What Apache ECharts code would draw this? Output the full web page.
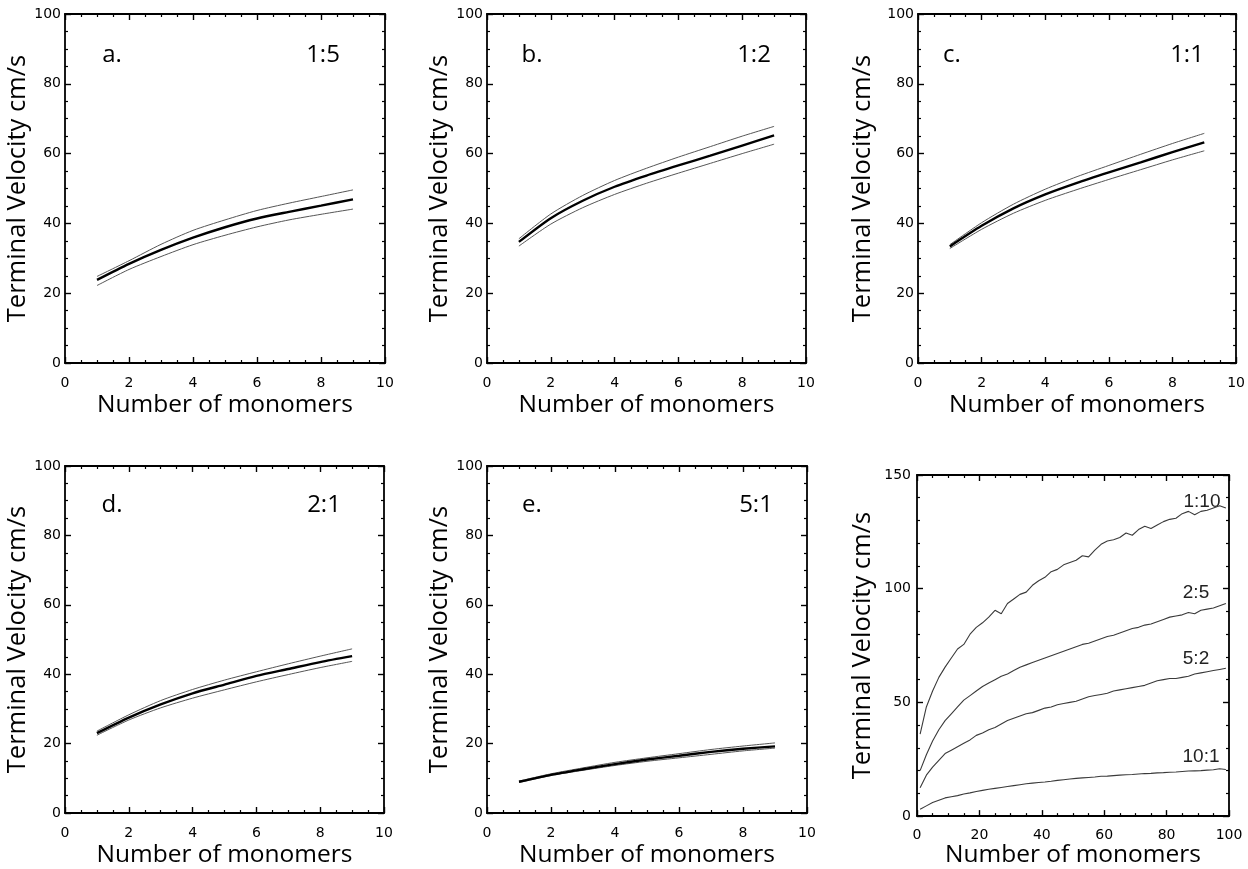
<!DOCTYPE html>
<html><head><meta charset="utf-8">
<script src="https://cdn.jsdelivr.net/npm/echarts@6/dist/echarts.min.js"></script>
<style>html,body{margin:0;padding:0;background:#fff}#c{width:1248px;height:869px}</style>
</head><body><div id="c"></div>
<script>
// ---- data ----
const monomers = [1, 2, 3, 4, 5, 6, 7, 8, 9];
const aHigh = [24.8, 29.3, 34.0, 38.0, 41.0, 43.7, 45.8, 47.7, 49.6];
const aMid  = [23.8, 28.4, 32.4, 35.9, 38.9, 41.4, 43.3, 45.1, 46.9];
const aLow  = [22.2, 26.8, 30.5, 33.9, 36.6, 39.0, 41.0, 42.6, 44.1];
const bHigh = [35.6, 42.7, 48.0, 52.3, 55.8, 59.0, 62.0, 65.0, 67.8];
const bMid  = [34.7, 41.5, 46.5, 50.5, 53.7, 56.6, 59.4, 62.3, 65.2];
const bLow  = [33.5, 39.8, 44.5, 48.3, 51.5, 54.4, 57.2, 60.0, 62.7];
const cHigh = [33.9, 40.2, 45.5, 49.8, 53.4, 56.6, 59.8, 62.9, 65.8];
const cMid  = [33.4, 39.3, 44.3, 48.3, 51.6, 54.6, 57.5, 60.4, 63.2];
const cLow  = [32.8, 38.3, 42.9, 46.6, 49.7, 52.6, 55.4, 58.2, 60.8];
const dHigh = [23.6, 28.3, 32.4, 35.6, 38.3, 40.7, 43.0, 45.2, 47.3];
const dMid  = [23.0, 27.5, 31.3, 34.5, 37.0, 39.5, 41.5, 43.5, 45.2];
const dLow  = [22.4, 26.8, 30.3, 33.1, 35.5, 37.8, 39.9, 41.9, 43.7];
const eHigh = [9.2, 11.3, 13.0, 14.6, 15.9, 17.1, 18.3, 19.3, 20.2];
const eMid  = [9.0, 11.0, 12.6, 14.1, 15.4, 16.5, 17.6, 18.5, 19.2];
const eLow  = [8.8, 10.8, 12.3, 13.7, 14.9, 15.9, 16.9, 17.9, 18.7];

const fMonomers = [1,3,5,7,9,11,13,15,17,19,21,23,25,27,29,31,33,35,37,39,41,43,45,47,49,
                   51,53,55,57,59,61,63,65,67,69,71,73,75,77,79,81,83,85,87,89,91,93,95,97,99];
const f1to10 = [36,48,55,61,65.5,69.5,73.5,75.5,80,83,85,87.5,90.5,89,93.5,95.5,97.5,98.5,101.5,103.5,
                105,107.5,108.5,110.5,111.5,112.5,114.5,114,117,119.5,121,121.5,122.5,124.5,123.5,126,127.5,126.5,128,129.5,
                130.5,131,133,134,132.5,134,134.5,135.5,136.5,135.5];
const f2to5 = [20,27,33,38,42,45,48,51,53,55,57,58.5,60,61.5,62.5,64,65.5,66.5,67.5,68.5,
               69.5,70.5,71.5,72.5,73.5,74.5,75.5,76,77,78,79,79.5,80.5,81.5,82.5,83,84,84.5,85.5,86.5,
               87.5,88,88.5,89.5,89,90.5,91,91.5,92.5,93.5];
const f5to2 = [12.5,18,21.5,24.5,27.5,29,30.5,32,33.5,35.5,36.5,38,39,40.5,42,43,44,45,45.5,46.5,
               47.5,48,49,49.5,50,50.5,51.5,52.5,53,53.5,54,55,55.5,56,56.5,57,57.5,58.5,59.5,60,
               60.5,60.5,61,61.5,62.5,63,63.5,64,64.5,65];
const f10to1 = [3,4.5,6,7,8,8.5,9,9.7,10.2,10.8,11.3,11.8,12.2,12.6,13,13.4,13.8,14.2,14.5,14.8,
                15,15.3,15.7,16,16.3,16.6,16.8,17,17.2,17.5,17.6,17.8,18,18.2,18.3,18.5,18.7,18.8,19,19.1,
                19.3,19.4,19.6,19.8,19.9,20,20.2,20.4,20.8,20.5];

const panelLetters = ['a.', 'b.', 'c.', 'd.', 'e.'];
const panelRatios = ['1:5', '1:2', '1:1', '2:1', '5:1'];
const fRatios = ['1:10', '2:5', '5:2', '10:1'];
const xTitle = 'Number of monomers';
const yTitle = 'Terminal Velocity cm/s';

// ---- layout ----
const grids = [
  {left: 65, top: 14, width: 320, height: 349},
  {left: 487, top: 14, width: 319, height: 349},
  {left: 918, top: 14, width: 319, height: 349},
  {left: 65, top: 466, width: 319, height: 348},
  {left: 487, top: 466, width: 320, height: 348},
  {left: 917, top: 475, width: 312, height: 342}
];
const yNameGaps = [27, 33, 42, 27, 34, 41];
const xNameGaps = [30, 30, 30, 30, 30, 23];

const titleFont = 'Open Sans';
const tickFont = 'DejaVu Sans';

function axisBase(gridIndex, showLabel, position, min, max, interval, minorSplit, labelMargin) {
  return {
    type: 'value', gridIndex, position, min, max, interval,
    axisLine: {show: true, onZero: false, lineStyle: {color: '#000', width: 1.8}},
    axisTick: {show: true, inside: true, length: 6, lineStyle: {color: '#000', width: 1.4}},
    minorTick: {show: true, splitNumber: minorSplit, length: 3, lineStyle: {color: '#000', width: 1.2}},
    splitLine: {show: false},
    axisLabel: {show: showLabel, margin: labelMargin, color: '#000', fontFamily: tickFont, fontSize: 14}
  };
}

const xAxes = [], yAxes = [], series = [];
const smallSets = [
  [aHigh, aMid, aLow], [bHigh, bMid, bLow], [cHigh, cMid, cLow],
  [dHigh, dMid, dLow], [eHigh, eMid, eLow]
];

grids.forEach((g, i) => {
  const isF = i === 5;
  const xmax = isF ? 100 : 10, xint = isF ? 20 : 2;
  const ymax = isF ? 150 : 100, yint = isF ? 50 : 20;
  const ySplit = isF ? 5 : 4;
  const xb = axisBase(i, true, 'bottom', 0, xmax, xint, 4, isF ? 12 : 13);
  xb.name = xTitle; xb.nameLocation = 'middle'; xb.nameGap = xNameGaps[i];
  xb.nameTextStyle = {fontFamily: titleFont, fontSize: 24.5, color: '#000'};
  xAxes.push(xb);
  xAxes.push(axisBase(i, false, 'top', 0, xmax, xint, 4, 8));
  const yl = axisBase(i, true, 'left', 0, ymax, yint, ySplit, isF ? 6 : 4);
  yl.name = yTitle; yl.nameLocation = 'middle'; yl.nameGap = yNameGaps[i];
  yl.nameTextStyle = {fontFamily: titleFont, fontSize: 25.5, color: '#000'};
  yAxes.push(yl);
  yAxes.push(axisBase(i, false, 'right', 0, ymax, yint, ySplit, 8));
});

smallSets.forEach((set, i) => {
  const styles = [
    {width: 1, color: '#555'},
    {width: 2.4, color: '#000'},
    {width: 1, color: '#555'}
  ];
  set.forEach((vals, k) => {
    series.push({
      type: 'line', xAxisIndex: i * 2, yAxisIndex: i * 2,
      data: monomers.map((m, j) => [m, vals[j]]),
      showSymbol: false, smooth: 0.25,
      lineStyle: styles[k], silent: true, z: k === 1 ? 3 : 2
    });
  });
});

[f1to10, f2to5, f5to2, f10to1].forEach(vals => {
  series.push({
    type: 'line', xAxisIndex: 10, yAxisIndex: 10,
    data: fMonomers.map((m, j) => [m, vals[j]]),
    showSymbol: false, lineStyle: {width: 1.1, color: '#3a3a3a'}, silent: true
  });
});

// ---- annotations ----
const letterPos = [[112, 55], [532, 55], [952, 55], [112, 505], [532, 505]];
const ratioPos = [[323, 55], [754, 55], [1187, 55], [324, 505], [756, 505]];
const fRatioPos = [[1202, 502], [1196, 593], [1196, 659], [1201, 757]];
const graphic = [];
panelLetters.forEach((t, i) => {
  graphic.push({type: 'text', x: letterPos[i][0], y: letterPos[i][1],
    style: {text: t, font: '24px "Open Sans"', fill: '#000', textAlign: 'center', textVerticalAlign: 'middle'}});
  graphic.push({type: 'text', x: ratioPos[i][0], y: ratioPos[i][1],
    style: {text: panelRatios[i], font: '24px "Open Sans"', fill: '#000', textAlign: 'center', textVerticalAlign: 'middle'}});
});
fRatios.forEach((t, i) => {
  graphic.push({type: 'text', x: fRatioPos[i][0], y: fRatioPos[i][1],
    style: {text: t, font: '19px "Liberation Sans"', fill: '#222', textAlign: 'center', textVerticalAlign: 'middle'}});
});

const chart = echarts.init(document.getElementById('c'), null, {renderer: 'canvas'});
chart.setOption({
  animation: false,
  backgroundColor: '#fff',
  grid: grids.map(g => Object.assign({containLabel: false}, g)),
  xAxis: xAxes, yAxis: yAxes, series, graphic
});
</script></body></html>
